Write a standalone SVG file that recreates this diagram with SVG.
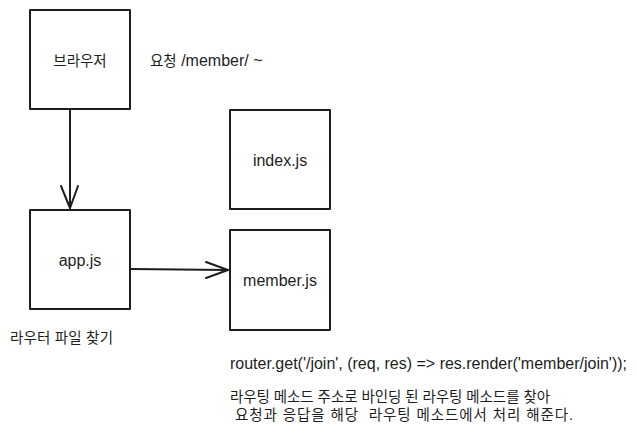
<svg xmlns="http://www.w3.org/2000/svg" width="637" height="436" viewBox="0 0 637 436">
<style>
.box{fill:#fff;stroke:#1e1e1e;stroke-width:2;stroke-linejoin:round}
.t{font-family:"Liberation Sans","Noto Sans CJK KR",sans-serif;font-size:16px;fill:#1e1e1e}
.k{font-size:14.5px}
.c{text-anchor:middle}
.ln{fill:none;stroke:#1e1e1e;stroke-width:2;stroke-linecap:round;stroke-linejoin:round}
</style>
<rect width="637" height="436" fill="#fff"/>
<g id="browser"><rect class="box" x="30" y="10" width="100" height="99"/><text class="t k c" x="80" y="66">브라우저</text></g>
<g id="index"><rect class="box" x="230" y="110" width="100" height="99"/><text class="t c" x="280" y="166">index.js</text></g>
<g id="app"><rect class="box" x="30" y="210" width="100" height="99"/><text class="t c" x="80" y="266">app.js</text></g>
<g id="member"><rect class="box" x="230" y="230" width="100" height="100"/><text class="t c" x="280" y="286">member.js</text></g>
<g id="connectors">
<path class="ln" d="M70 110 L70 208"/>
<path class="ln" d="M61 186 L70 208 L78 186"/>
<path class="ln" d="M131 269 L228 270"/>
<path class="ln" d="M206 262 L228 270 L206 278"/>
</g>
<g id="labels">
<text class="t" x="150" y="66"><tspan class="k">요청</tspan> /member/ ~</text>
<text class="t k" x="10" y="343" textLength="103" lengthAdjust="spacing">라우터 파일 찾기</text>
<text class="t" x="230" y="369" textLength="397" lengthAdjust="spacing">router.get('/join', (req, res) =&gt; res.render('member/join'));</text>
<text class="t k" x="230" y="402" textLength="320" lengthAdjust="spacing">라우팅 메소드 주소로 바인딩 된 라우팅 메소드를 찾아</text>
<text class="t k" x="230" y="420" xml:space="preserve" textLength="343" lengthAdjust="spacing"> 요청과 응답을 해당  라우팅 메소드에서 처리 해준다.</text>
</g>
</svg>
